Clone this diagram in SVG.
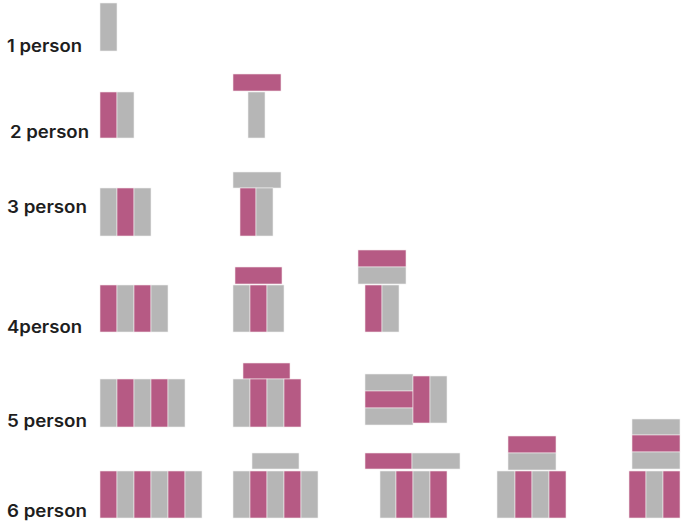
<svg xmlns="http://www.w3.org/2000/svg" width="685" height="524" viewBox="0 0 685 524">
<style>
.p{fill:#B65A84;stroke:#f3e6ec;stroke-width:0.6}
.g{fill:#B6B6B6;stroke:#f0f0f0;stroke-width:0.6}
.t{font-family:Inter,"Liberation Sans",Arial,sans-serif;font-weight:600;font-size:17px;fill:#1e1e1e}
</style>
<rect width="685" height="524" fill="#ffffff"/>
<g id="labels">
<text class="t" x="7" y="52" textLength="75" lengthAdjust="spacingAndGlyphs">1 person</text>
<text class="t" x="10" y="138" textLength="79" lengthAdjust="spacingAndGlyphs">2 person</text>
<text class="t" x="7" y="213" textLength="80" lengthAdjust="spacingAndGlyphs">3 person</text>
<text class="t" x="7" y="333" textLength="75" lengthAdjust="spacingAndGlyphs">4person</text>
<text class="t" x="7" y="427" textLength="80" lengthAdjust="spacingAndGlyphs">5 person</text>
<text class="t" x="7" y="517" textLength="80" lengthAdjust="spacingAndGlyphs">6 person</text>
</g>
<g id="r1c1"><rect class="g" x="100" y="3" width="17" height="48"/></g>
<g id="r2c1"><rect class="p" x="100" y="92" width="17" height="46"/><rect class="g" x="117" y="92" width="17" height="46"/></g>
<g id="r2c2"><rect class="p" x="233" y="74" width="48" height="17"/><rect class="g" x="248" y="92" width="17" height="46"/></g>
<g id="r3c1"><rect class="g" x="100" y="188" width="17" height="48"/><rect class="p" x="117" y="188" width="17" height="48"/><rect class="g" x="134" y="188" width="17" height="48"/></g>
<g id="r3c2"><rect class="g" x="233" y="172" width="48" height="16"/><rect class="p" x="240" y="188" width="16" height="48"/><rect class="g" x="256" y="188" width="17" height="48"/></g>
<g id="r4c1"><rect class="p" x="100" y="285" width="17" height="47"/><rect class="g" x="117" y="285" width="17" height="47"/><rect class="p" x="134" y="285" width="17" height="47"/><rect class="g" x="151" y="285" width="17" height="47"/></g>
<g id="r4c2"><rect class="p" x="235" y="267" width="47" height="17"/><rect class="g" x="233" y="285" width="17" height="47"/><rect class="p" x="250" y="285" width="17" height="47"/><rect class="g" x="267" y="285" width="17" height="47"/></g>
<g id="r4c3"><rect class="p" x="358" y="250" width="48" height="17"/><rect class="g" x="358" y="267" width="48" height="17"/><rect class="p" x="365" y="285" width="17" height="47"/><rect class="g" x="382" y="285" width="17" height="47"/></g>
<g id="r5c1"><rect class="g" x="100" y="379" width="17" height="48"/><rect class="p" x="117" y="379" width="17" height="48"/><rect class="g" x="134" y="379" width="17" height="48"/><rect class="p" x="151" y="379" width="17" height="48"/><rect class="g" x="168" y="379" width="17" height="48"/></g>
<g id="r5c2"><rect class="p" x="243" y="363" width="47" height="16"/><rect class="g" x="233" y="379" width="17" height="48"/><rect class="p" x="250" y="379" width="17" height="48"/><rect class="g" x="267" y="379" width="17" height="48"/><rect class="p" x="284" y="379" width="17" height="48"/></g>
<g id="r5c3"><rect class="g" x="365" y="374" width="48" height="17"/><rect class="p" x="365" y="391" width="48" height="17"/><rect class="g" x="365" y="408" width="48" height="17"/><rect class="p" x="413" y="376" width="17" height="47"/><rect class="g" x="430" y="376" width="17" height="47"/></g>
<g id="r6c1"><rect class="p" x="100" y="471" width="17" height="47"/><rect class="g" x="117" y="471" width="17" height="47"/><rect class="p" x="134" y="471" width="17" height="47"/><rect class="g" x="151" y="471" width="17" height="47"/><rect class="p" x="168" y="471" width="17" height="47"/><rect class="g" x="185" y="471" width="17" height="47"/></g>
<g id="r6c2"><rect class="g" x="252" y="453" width="47" height="16"/><rect class="g" x="233" y="471" width="17" height="47"/><rect class="p" x="250" y="471" width="17" height="47"/><rect class="g" x="267" y="471" width="17" height="47"/><rect class="p" x="284" y="471" width="17" height="47"/><rect class="g" x="301" y="471" width="17" height="47"/></g>
<g id="r6c3"><rect class="p" x="365" y="453" width="47" height="16"/><rect class="g" x="412" y="453" width="48" height="16"/><rect class="g" x="380" y="471" width="16" height="47"/><rect class="p" x="396" y="471" width="17" height="47"/><rect class="g" x="413" y="471" width="17" height="47"/><rect class="p" x="430" y="471" width="17" height="47"/></g>
<g id="r6c4"><rect class="p" x="508" y="436" width="48" height="17"/><rect class="g" x="508" y="453" width="48" height="17"/><rect class="g" x="497" y="471" width="18" height="47"/><rect class="p" x="515" y="471" width="17" height="47"/><rect class="g" x="532" y="471" width="17" height="47"/><rect class="p" x="549" y="471" width="17" height="47"/></g>
<g id="r6c5"><rect class="g" x="632" y="419" width="48" height="16"/><rect class="p" x="632" y="435" width="48" height="17"/><rect class="g" x="632" y="452" width="48" height="17"/><rect class="p" x="629" y="471" width="17" height="47"/><rect class="g" x="646" y="471" width="17" height="47"/><rect class="p" x="663" y="471" width="17" height="47"/></g>
</svg>
